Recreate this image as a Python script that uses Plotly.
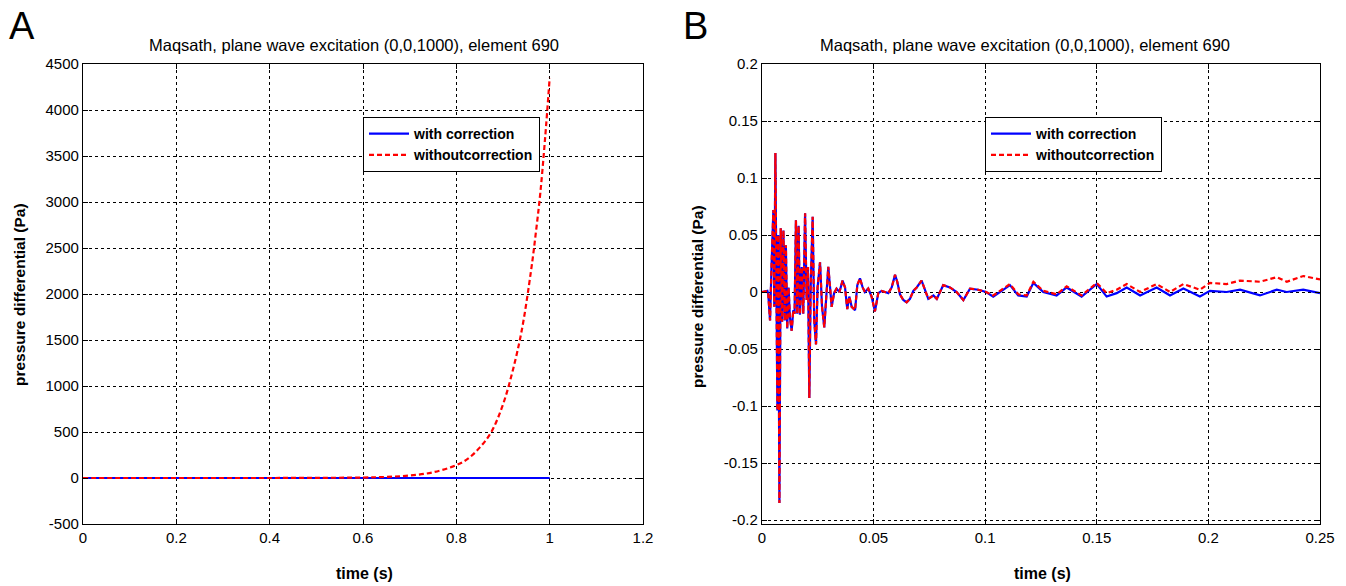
import plotly.graph_objects as go

# ---------------- Panel A data ----------------
t_a = [0.0, 0.1, 0.2, 0.3, 0.4, 0.5, 0.6, 0.65, 0.7, 0.75, 0.8, 0.825, 0.85, 0.875,
       0.9, 0.92, 0.94, 0.96, 0.97, 0.98, 0.99, 1.0]
with_a = [0, 0, 0, 0, 0, 0, 0, 0, 0, 0, 0, 0, 0, 0, 0, 0, 0, 0, 0, 0, 0, 0]
without_a = [0, 0, 0, 0, 0, 2, 5, 12, 27, 62, 140, 210, 330, 500,
             800, 1150, 1600, 2250, 2650, 3100, 3680, 4350]

# ---------------- Panel B data ----------------
t_b = [0.0, 0.0024, 0.0028, 0.0036, 0.0043, 0.0051, 0.0055, 0.0060, 0.0069, 0.0073,
       0.0078, 0.0084, 0.0090, 0.0096, 0.0102, 0.0107, 0.0113, 0.0119, 0.0125, 0.0133,
       0.0140, 0.0146, 0.0152, 0.0158, 0.0164, 0.0170, 0.0178, 0.0185, 0.0193, 0.0200,
       0.0206, 0.0212, 0.0218, 0.0227, 0.0234, 0.0242, 0.0249, 0.0260, 0.0269, 0.0279,
       0.0287, 0.0297, 0.0305, 0.0312, 0.0323, 0.0334, 0.0347, 0.0361, 0.0372, 0.0382,
       0.0391, 0.0402, 0.0417, 0.0427, 0.0439, 0.0451, 0.0461, 0.0476, 0.0491, 0.0506,
       0.0521, 0.0536, 0.0551, 0.0566, 0.0581, 0.0596, 0.0606, 0.0618, 0.0633, 0.0648,
       0.0663, 0.0678, 0.0693, 0.0715, 0.0745, 0.0768, 0.0783, 0.0812, 0.0842, 0.0872,
       0.0902, 0.0932, 0.0969, 0.1004, 0.1036, 0.1066, 0.1111, 0.1148, 0.1186, 0.1216,
       0.1260, 0.1320, 0.1365, 0.1432, 0.1500, 0.1544, 0.1589, 0.1634, 0.1694, 0.1768,
       0.1828, 0.1888, 0.1962, 0.2007, 0.2082, 0.2142, 0.2231, 0.2306, 0.2351, 0.2425,
       0.2492, 0.2500]
with_b = [0.0, 0.001, -0.002, -0.025, 0.025, 0.072, -0.013, 0.122, -0.104, 0.050,
          -0.185, 0.056, -0.026, 0.054, -0.025, 0.041, -0.032, 0.004, -0.022, -0.034,
          -0.016, -0.019, 0.063, -0.019, 0.058, -0.020, 0.022, -0.019, 0.069, -0.007,
          0.022, -0.093, 0.004, 0.066, -0.025, -0.046, 0.004, 0.026, -0.013, -0.031,
          -0.007, 0.022, 0.004, -0.013, -0.001, 0.003, 0.000, 0.010, 0.004, -0.015,
          -0.004, -0.013, -0.016, 0.006, 0.012, 0.004, 0.000, 0.003, -0.004, -0.017,
          -0.001, 0.001, 0.000, -0.001, 0.004, 0.015, 0.009, -0.002, -0.007, -0.009,
          -0.006, 0.001, 0.004, 0.010, -0.006, -0.003, -0.006, 0.006, 0.004, 0.000,
          -0.007, 0.003, 0.002, 0.000, -0.004, 0.000, 0.006, -0.003, -0.004, 0.008,
          0.000, -0.003, 0.004, -0.004, 0.007, -0.004, -0.001, 0.004, -0.003, 0.004,
          -0.003, 0.003, -0.004, 0.001, 0.000, 0.002, -0.003, 0.002, 0.000, 0.002,
          -0.001, -0.001]
without_b = [0.0, 0.001, -0.002, -0.025, 0.025, 0.072, -0.013, 0.122, -0.104, 0.050,
             -0.185, 0.056, -0.026, 0.054, -0.025, 0.041, -0.032, 0.004, -0.022, -0.034,
             -0.016, -0.019, 0.063, -0.019, 0.058, -0.020, 0.022, -0.019, 0.069, -0.007,
             0.022, -0.093, 0.004, 0.066, -0.025, -0.046, 0.004, 0.026, -0.013, -0.031,
             -0.007, 0.022, 0.004, -0.013, -0.001, 0.003, 0.000, 0.010, 0.004, -0.015,
             -0.004, -0.013, -0.016, 0.006, 0.012, 0.004, 0.000, 0.003, -0.004, -0.017,
             -0.001, 0.001, 0.000, -0.001, 0.004, 0.015, 0.009, -0.002, -0.007, -0.009,
             -0.006, 0.001, 0.004, 0.010, -0.006, -0.003, -0.006, 0.006, 0.004, 0.000,
             -0.007, 0.003, 0.002, 0.000, -0.003, 0.001, 0.007, -0.002, -0.003, 0.009,
             0.001, -0.002, 0.005, -0.003, 0.008, -0.001, 0.002, 0.007, 0.000, 0.007,
             0.000, 0.007, 0.002, 0.008, 0.007, 0.010, 0.009, 0.013, 0.009, 0.014,
             0.011, 0.011]

title_text = "Maqsath, plane wave excitation (0,0,1000), element 690"
xlabel = "time (s)"
ylabel = "pressure differential (Pa)"
legend_names = ["with correction", "withoutcorrection"]

xa_ticks = [0, 0.2, 0.4, 0.6, 0.8, 1.0, 1.2]
xa_text = ["0", "0.2", "0.4", "0.6", "0.8", "1", "1.2"]
ya_ticks = [-500, 0, 500, 1000, 1500, 2000, 2500, 3000, 3500, 4000, 4500]
ya_text = ["-500", "0", "500", "1000", "1500", "2000", "2500", "3000", "3500", "4000", "4500"]
xb_ticks = [0, 0.05, 0.1, 0.15, 0.2, 0.25]
xb_text = ["0", "0.05", "0.1", "0.15", "0.2", "0.25"]
yb_ticks = [-0.2, -0.15, -0.1, -0.05, 0, 0.05, 0.1, 0.15, 0.2]
yb_text = ["-0.2", "-0.15", "-0.1", "-0.05", "0", "0.05", "0.1", "0.15", "0.2"]

FONT = "Liberation Sans, Arial, Helvetica, sans-serif"
BLUE = "#0000FF"
RED = "#FF0000"

W, H = 1346, 586

def px_x(x):
    return x / W

def px_y(y):
    return 1 - y / H

fig = go.Figure()

# Panel A
fig.add_trace(go.Scatter(x=t_a, y=with_a, mode="lines", name=legend_names[0],
                         line=dict(color=BLUE, width=2.2), xaxis="x", yaxis="y",
                         legend="legend"))
fig.add_trace(go.Scatter(x=t_a, y=without_a, mode="lines", name=legend_names[1],
                         line=dict(color=RED, width=2.2, dash="5px,3px", shape="spline"),
                         xaxis="x", yaxis="y", legend="legend"))
# Panel B
fig.add_trace(go.Scatter(x=t_b, y=with_b, mode="lines", name=legend_names[0],
                         line=dict(color=BLUE, width=2.2), xaxis="x2", yaxis="y2",
                         legend="legend2"))
fig.add_trace(go.Scatter(x=t_b, y=without_b, mode="lines", name=legend_names[1],
                         line=dict(color=RED, width=2.2, dash="5px,3px"),
                         xaxis="x2", yaxis="y2", legend="legend2"))

axis_common = dict(
    showline=True, linecolor="black", linewidth=1.3, mirror="ticks",
    ticks="inside", ticklen=5, tickcolor="black", tickwidth=1,
    showgrid=True, gridcolor="black", gridwidth=1, griddash="3px,3px",
    zeroline=False, automargin=False,
    tickfont=dict(family=FONT, size=15, color="black"),
)

ydom = [px_y(524), px_y(64)]

legend_font = dict(family=FONT, size=14, color="black", weight="bold")

fig.update_layout(
    width=W, height=H,
    margin=dict(l=0, r=0, t=0, b=0, autoexpand=False),
    paper_bgcolor="white", plot_bgcolor="white",
    font=dict(family=FONT, color="black"),
    xaxis=dict(domain=[px_x(83), px_x(643)], range=[0, 1.2], tickvals=xa_ticks,
               ticktext=xa_text, anchor="y", **axis_common),
    yaxis=dict(domain=ydom, range=[-500, 4500], tickvals=ya_ticks, ticktext=ya_text,
               anchor="x", **axis_common),
    xaxis2=dict(domain=[px_x(762), px_x(1320)], range=[0, 0.25], tickvals=xb_ticks,
                ticktext=xb_text, anchor="y2", **axis_common),
    yaxis2=dict(domain=ydom, range=[-0.2035, 0.2], tickvals=yb_ticks, ticktext=yb_text,
                anchor="x2", **axis_common),
    legend=dict(x=px_x(363), y=px_y(117), xanchor="left", yanchor="top",
                bgcolor="white", bordercolor="black", borderwidth=1,
                font=legend_font, itemwidth=40, tracegroupgap=2),
    legend2=dict(x=px_x(985), y=px_y(117), xanchor="left", yanchor="top",
                 bgcolor="white", bordercolor="black", borderwidth=1,
                 font=legend_font, itemwidth=40, tracegroupgap=2),
    showlegend=True,
)

annotations = [
    dict(text=title_text, x=px_x(354), y=px_y(45), xref="paper", yref="paper",
         showarrow=False, font=dict(family=FONT, size=16.5, color="black"),
         xanchor="center", yanchor="middle"),
    dict(text=title_text, x=px_x(1025), y=px_y(45), xref="paper", yref="paper",
         showarrow=False, font=dict(family=FONT, size=16.5, color="black"),
         xanchor="center", yanchor="middle"),
    dict(text=xlabel, x=px_x(364), y=px_y(573), xref="paper", yref="paper",
         showarrow=False, font=dict(family=FONT, size=16, color="black", weight="bold"),
         xanchor="center", yanchor="middle"),
    dict(text=xlabel, x=px_x(1042), y=px_y(573), xref="paper", yref="paper",
         showarrow=False, font=dict(family=FONT, size=16, color="black", weight="bold"),
         xanchor="center", yanchor="middle"),
    dict(text=ylabel, x=px_x(19), y=px_y(295), xref="paper", yref="paper",
         showarrow=False, textangle=-90,
         font=dict(family=FONT, size=15.5, color="black", weight="bold"),
         xanchor="center", yanchor="middle"),
    dict(text=ylabel, x=px_x(697), y=px_y(297), xref="paper", yref="paper",
         showarrow=False, textangle=-90,
         font=dict(family=FONT, size=15.5, color="black", weight="bold"),
         xanchor="center", yanchor="middle"),
    dict(text="A", x=px_x(7), y=px_y(26), xref="paper", yref="paper",
         showarrow=False, font=dict(family=FONT, size=38, color="black"),
         xanchor="left", yanchor="middle"),
    dict(text="B", x=px_x(681), y=px_y(26), xref="paper", yref="paper",
         showarrow=False, font=dict(family=FONT, size=38, color="black"),
         xanchor="left", yanchor="middle"),
]
fig.update_layout(annotations=annotations)

fig.write_html(
    "out.html",
    config={"displayModeBar": False},
    post_script="document.body.style.margin='0';document.body.style.overflow='hidden';"
                "document.documentElement.style.overflow='hidden';",
)
